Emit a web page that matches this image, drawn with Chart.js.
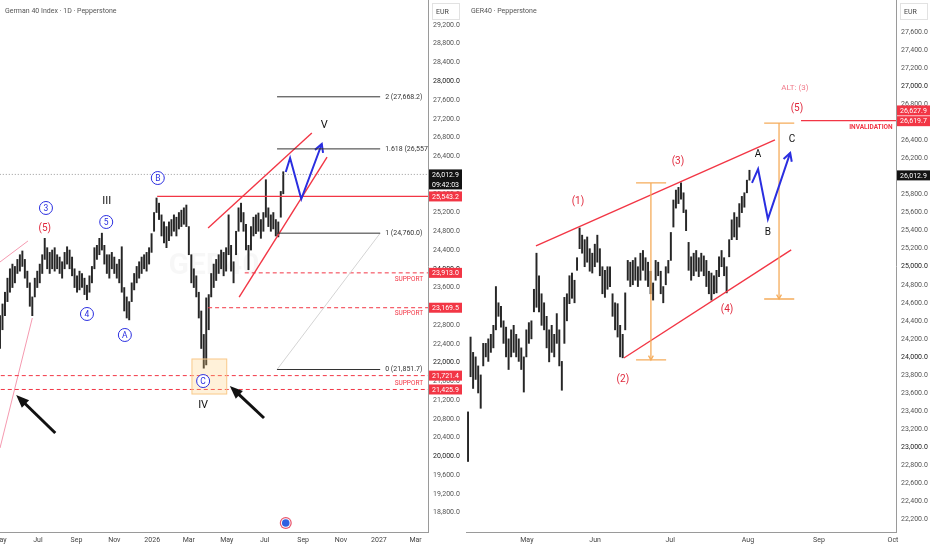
<!DOCTYPE html>
<html>
<head>
<meta charset="utf-8">
<script src="https://cdn.jsdelivr.net/npm/chart.js@4.4.1/dist/chart.umd.min.js"></script>
<style>
html, body { margin: 0; padding: 0; background: #fff; }
#wrap { position: relative; width: 932px; height: 550px; overflow: hidden; }
.pane { position: absolute; top: 0; width: 466px; height: 550px; }
</style>
</head>
<body>
<div id="wrap">
  <div class="pane" style="left:0"><canvas id="leftChart" width="466" height="550"></canvas></div>
  <div class="pane" style="left:466px"><canvas id="rightChart" width="466" height="550"></canvas></div>
</div>
<script>
// ---- daily chart (left), one bar every 4 days from 1 May 2025
var leftStep = 4;
var leftLow = [22300, 22700, 23000, 23300, 23500, 23600, 23700, 23900, 23950, 24050,
    23800, 23600, 23200, 23000, 23400, 23600, 23700, 23900, 24200, 24000,
    23900, 24000, 23950, 24000, 23900, 23800, 24000, 24100, 24000, 23850,
    23600, 23500, 23550, 23600, 23450, 23340, 23500, 23700, 24000, 24200,
    24300, 24400, 24100, 23900, 23800, 24000, 23900, 23800, 23700, 23500,
    23100, 22950, 22910, 23300, 23550, 23700, 23800, 23900, 24000, 23950,
    24100, 24350, 24800, 25200, 25050, 24700, 24550, 24450, 24600, 24700,
    24800, 24700, 24850, 24900, 24950, 24900, 24300, 23700, 23600, 23400,
    22950, 22300, 21880, 21950, 22700, 23400, 23600, 23750, 23900, 24000,
    23850, 23950, 24300, 23950, 23700, 24300, 24800, 25000, 24800, 24400,
    23980, 24400, 24700, 24750, 24800, 24650, 24800, 25100, 24900, 24800,
    24850, 24700, 24680, 25100, 25600];
var leftHigh = [23000, 23250, 23500, 23800, 24000, 24100, 24050, 24200, 24300, 24380,
    24200, 23950, 23700, 23400, 23800, 23950, 24100, 24300, 24650, 24450,
    24350, 24400, 24450, 24300, 24250, 24150, 24350, 24470, 24400, 24250,
    24000, 23850, 23950, 23900, 23800, 23650, 23850, 24050, 24450, 24500,
    24650, 24760, 24500, 24300, 24300, 24350, 24250, 24100, 24200, 24470,
    23600, 23400, 23300, 23700, 23900, 24050, 24150, 24250, 24300, 24350,
    24450, 24750, 25200, 25510, 25400, 25150, 25000, 24900, 25000, 25050,
    25150, 25100, 25200, 25250, 25300, 25360, 24900, 24300, 24000, 23850,
    23500, 23100, 22600, 23380, 23450, 23900, 24100, 24200, 24300, 24400,
    24350, 24450, 25150, 24500, 24150, 24800, 25300, 25400, 25200, 24950,
    24500, 24900, 25100, 25150, 25190, 25050, 25200, 25900, 25300, 25150,
    25200, 25050, 25000, 25650, 26070];
var leftTickDays = [0, 61, 123, 184, 245, 304, 365, 426, 488, 549, 610, 669];
var leftTickLabels = ['May', 'Jul', 'Sep', 'Nov', '2026', 'Mar', 'May', 'Jul', 'Sep', 'Nov', '2027', 'Mar'];
var leftPriceTicks = [29200, 28800, 28400, 28000, 27600, 27200, 26800, 26400, 26000, 25600, 25200,
    24800, 24400, 24000, 23600, 23200, 22800, 22400, 22000, 21600, 21200, 20800, 20400, 20000,
    19600, 19200, 18800];
var fibLevels = ['0', '1', '1.618', '2'];
var fibPrices = [21851.7, 24760.0, 26557.3, 27668.2];
var supportPrices = [23913.0, 23169.5, 21721.4, 21425.9];
var lastPrice = 26012.9;

// ---- 4h chart (right), x in trading days
var rightStart = 0.6;
var rightStep = 0.75;
var rightLow = [22840, 23780, 23650, 23750, 23600, 23430, 23900, 24000, 23950, 24050,
    24100, 24300, 24450, 24330, 24150, 24000, 23860, 24000, 24050, 24000,
    23950, 23860, 23610, 24000, 24150, 24200, 24500, 24550, 24500, 24350,
    24300, 24100, 23945, 24050, 24000, 24150, 23900, 23630, 24150, 24400,
    24590, 24650, 24600, 24960, 25200, 25150, 25000, 25050, 24950, 24930,
    25000, 25050, 24900, 24700, 24660, 24750, 24780, 24450, 24300, 24220,
    24000, 23990, 24300, 24850, 24780, 24800, 24850, 24780, 24850, 24960,
    24850, 24780, 24700, 24630, 24850, 24900, 24700, 24600, 24800, 24930,
    25070, 25440, 25650, 25700, 25750, 25600, 25400, 24960, 24850, 24900,
    24950, 24890, 24950, 24900, 24780, 24700, 24630, 24700, 24710, 24890,
    25000, 24900, 24710, 25110, 25300, 25330, 25300, 25440, 25600, 25660,
    25820, 25960];
var rightHigh = [23390, 24220, 24050, 24000, 23900, 23800, 24150, 24150, 24200, 24250,
    24350, 24780, 24600, 24560, 24400, 24330, 24200, 24300, 24350, 24250,
    24200, 24100, 24000, 24300, 24380, 24400, 24750, 25150, 24900, 24700,
    24600, 24450, 24300, 24350, 24250, 24480, 24300, 23950, 24660, 24700,
    24900, 24930, 24850, 25100, 25430, 25350, 25300, 25330, 25200, 25150,
    25250, 25350, 25200, 25000, 24960, 25000, 25000, 24700, 24600, 24590,
    24350, 24250, 24710, 25070, 25050, 25070, 25100, 25000, 25150, 25180,
    25100, 25050, 24950, 24820, 25070, 25050, 24950, 24780, 25000, 25070,
    25380, 25740, 25850, 25880, 25930, 25820, 25630, 25270, 25110, 25150,
    25180, 25100, 25150, 25120, 25070, 24950, 24930, 24900, 24960, 25110,
    25180, 25100, 25000, 25300, 25520, 25600, 25550, 25700, 25780, 25820,
    25960, 26070];
var rightTickPos = [18, 38.2, 60.4, 83.4, 104.4, 126.3];
var rightTickLabels = ['May', 'Jun', 'Jul', 'Aug', 'Sep', 'Oct'];
var rightPriceTicks = [27600, 27400, 27200, 27000, 26800, 26600, 26400, 26200, 26000, 25800,
    25600, 25400, 25200, 25000, 24800, 24600, 24400, 24200, 24000, 23800, 23600, 23400,
    23200, 23000, 22800, 22600, 22400, 22200];
var invalidation = [26627.9, 26619.7];

var RED = '#f23645';
var BLUE = '#2a2ee0';
var ORANGE = '#f5ac5b';

Chart.defaults.font.family = 'Roboto, "Liberation Sans", sans-serif';

function fmt(v) {
    return v.toLocaleString('en-US', { minimumFractionDigits: 1, maximumFractionDigits: 1 });
}

function bars(lows, highs, start, step) {
    return lows.map(function (lo, i) {
        return { x: start + i * step, y: [lo, highs[i]] };
    });
}

function arrowHead(ctx, x1, y1, x2, y2, len, open) {
    var a = Math.atan2(y2 - y1, x2 - x1);
    var w = open ? 0.5 : 0.38;
    ctx.beginPath();
    ctx.moveTo(x2 - len * Math.cos(a - w), y2 - len * Math.sin(a - w));
    ctx.lineTo(x2, y2);
    ctx.lineTo(x2 - len * Math.cos(a + w), y2 - len * Math.sin(a + w));
    if (open) {
        ctx.stroke();
    } else {
        ctx.closePath();
        ctx.fill();
    }
}

function drawItem(chart, ctx, m) {
    var sx = chart.scales.x, sy = chart.scales.y, area = chart.chartArea;
    var X = function (v) { return sx.getPixelForValue(v); };
    var Y = function (v) { return sy.getPixelForValue(v); };
    ctx.save();
    ctx.strokeStyle = m.c || '#000';
    ctx.fillStyle = m.c || '#000';
    ctx.lineWidth = m.w || 1;
    ctx.setLineDash(m.dash || []);
    ctx.textBaseline = 'middle';
    if (m.t === 'line') {
        var p = m.p;
        ctx.beginPath();
        ctx.moveTo(X(p[0]), Y(p[1]));
        for (var i = 2; i < p.length; i += 2) ctx.lineTo(X(p[i]), Y(p[i + 1]));
        ctx.stroke();
        if (m.head) {
            var n = p.length;
            arrowHead(ctx, X(p[n - 4]), Y(p[n - 3]), X(p[n - 2]), Y(p[n - 1]), 9, true);
        }
    } else if (m.t === 'hline') {
        ctx.beginPath();
        ctx.moveTo(X(m.from), Y(m.y));
        ctx.lineTo(area.right, Y(m.y));
        ctx.stroke();
    } else if (m.t === 'text') {
        ctx.font = m.f;
        ctx.textAlign = m.align || 'center';
        ctx.fillText(m.s, X(m.x), Y(m.y) + (m.dy || 0));
    } else if (m.t === 'circle') {
        ctx.beginPath();
        ctx.arc(X(m.x), Y(m.y), 6.5, 0, Math.PI * 2);
        ctx.fillStyle = '#fff';
        ctx.fill();
        ctx.stroke();
        ctx.fillStyle = m.c;
        ctx.font = '8.5px Roboto';
        ctx.textAlign = 'center';
        ctx.fillText(m.s, X(m.x), Y(m.y) + 0.5);
    } else if (m.t === 'arrow') {
        var ax1 = X(m.p[0]), ay1 = Y(m.p[1]), ax2 = X(m.p[2]), ay2 = Y(m.p[3]);
        var ang = Math.atan2(ay2 - ay1, ax2 - ax1);
        ctx.beginPath();
        ctx.moveTo(ax1, ay1);
        ctx.lineTo(ax2 - 9 * Math.cos(ang), ay2 - 9 * Math.sin(ang));
        ctx.stroke();
        arrowHead(ctx, ax1, ay1, ax2, ay2, 14, false);
    } else if (m.t === 'box') {
        var bx = X(m.p[0]), by = Y(m.p[1]);
        var bw = X(m.p[2]) - bx, bh = Y(m.p[3]) - by;
        ctx.fillStyle = m.fill;
        ctx.fillRect(bx, by, bw, bh);
        ctx.strokeRect(bx, by, bw, bh);
    } else if (m.t === 'measure') {
        var mx = X(m.x), y1 = Y(m.y1), y2 = Y(m.y2);
        ctx.beginPath();
        ctx.moveTo(mx, y1); ctx.lineTo(mx, y2);
        ctx.moveTo(X(m.x1), y1); ctx.lineTo(X(m.x2), y1);
        ctx.moveTo(X(m.x1), y2); ctx.lineTo(X(m.x2), y2);
        ctx.stroke();
        arrowHead(ctx, mx, y1, mx, y2, 5, true);
    } else if (m.t === 'icon') {
        var ix = X(m.x), iy = Y(m.y);
        ctx.beginPath(); ctx.arc(ix, iy, 6, 0, Math.PI * 2); ctx.fillStyle = '#e8536b'; ctx.fill();
        ctx.beginPath(); ctx.arc(ix, iy, 4.8, 0, Math.PI * 2); ctx.fillStyle = '#fff'; ctx.fill();
        ctx.beginPath(); ctx.arc(ix, iy, 3.8, 0, Math.PI * 2); ctx.fillStyle = '#2f5fe0'; ctx.fill();
    }
    ctx.restore();
}

var marksPlugin = {
    id: 'marks',
    beforeDatasetsDraw: function (chart, args, opts) {
        if (!opts.watermark) return;
        var ctx = chart.ctx, a = chart.chartArea;
        ctx.save();
        ctx.font = 'bold 30px Roboto';
        ctx.fillStyle = 'rgba(0,0,0,0.03)';
        ctx.textAlign = 'center';
        ctx.textBaseline = 'middle';
        ctx.fillText(opts.watermark, (a.left + a.right) / 2, (a.top + a.bottom) / 2);
        ctx.restore();
    },
    afterDatasetsDraw: function (chart, args, opts) {
        var ctx = chart.ctx, a = chart.chartArea;
        ctx.save();
        ctx.beginPath();
        ctx.rect(a.left, a.top, a.right - a.left, a.bottom - a.top);
        ctx.clip();
        (opts.items || []).forEach(function (m) { drawItem(chart, ctx, m); });
        ctx.restore();
    },
    afterDraw: function (chart, args, opts) {
        var ctx = chart.ctx, sy = chart.scales.y, a = chart.chartArea;
        ctx.save();
        ctx.textBaseline = 'middle';
        ctx.textAlign = 'left';
        ctx.font = '7px Roboto';
        ctx.fillStyle = '#555';
        ctx.fillText(opts.title, a.left + 5, 11);
        // currency header
        ctx.strokeStyle = '#e2e2e2';
        ctx.strokeRect(sy.left + 4.5, 3.5, 27, 16);
        ctx.fillStyle = '#444';
        ctx.fillText('EUR', sy.left + 8, 12);
        // price tags on the axis
        (opts.tags || []).forEach(function (t) {
            var y = sy.getPixelForValue(t.y) + (t.dy || 0);
            var lines = t.lines || [fmt(t.y)];
            ctx.fillStyle = t.bg;
            ctx.fillRect(sy.left + 1, y - 5, 33, 10 * lines.length);
            ctx.fillStyle = '#fff';
            lines.forEach(function (s, i) { ctx.fillText(s, sy.left + 4, y + i * 10 + 0.5); });
        });
        ctx.restore();
    }
};

function makeChart(canvas, cfg) {
    return new Chart(canvas, {
        type: 'bar',
        data: {
            datasets: [{
                data: cfg.data,
                backgroundColor: '#262626',
                borderWidth: 0,
                barThickness: 1.3,
                grouped: false
            }]
        },
        plugins: [marksPlugin],
        options: {
            responsive: false,
            animation: false,
            devicePixelRatio: 1,
            layout: { padding: 0 },
            plugins: {
                legend: { display: false },
                tooltip: { enabled: false },
                marks: { title: cfg.title, items: cfg.items, tags: cfg.tags, watermark: cfg.watermark }
            },
            scales: {
                x: {
                    type: 'linear',
                    min: cfg.xMin,
                    max: cfg.xMax,
                    offset: false,
                    grid: { display: false, drawTicks: false },
                    border: { display: true, color: '#9a9a9a' },
                    ticks: {
                        autoSkip: false,
                        maxRotation: 0,
                        padding: 4,
                        color: '#444',
                        font: { size: 7 },
                        callback: function (v, i) { return cfg.xLabels[i]; }
                    },
                    afterBuildTicks: function (s) {
                        s.ticks = cfg.xTicks.map(function (v) { return { value: v }; });
                    },
                    afterFit: function (s) {
                        s.height = 18;
                        s.paddingLeft = 0;
                        s.paddingRight = 0;
                    }
                },
                y: {
                    position: 'right',
                    min: cfg.yMin,
                    max: cfg.yMax,
                    grid: { display: false, drawTicks: false },
                    border: { display: true, color: '#9a9a9a' },
                    ticks: {
                        padding: 5,
                        font: { size: 7 },
                        color: function (c) { return c.tick && c.tick.value % 1000 === 0 ? '#222' : '#555'; },
                        callback: function (v) { return fmt(v); }
                    },
                    afterBuildTicks: function (s) {
                        s.ticks = cfg.yTicks.map(function (v) { return { value: v }; });
                    },
                    afterFit: function (s) {
                        s.width = cfg.axisWidth;
                        s.paddingTop = 0;
                        s.paddingBottom = 0;
                    }
                }
            }
        }
    });
}

var leftItems = [
    { t: 'line', p: [0, 24145, 45, 24593], c: '#f59ab0', w: 1 },
    { t: 'line', p: [0, 20177, 52, 22950], c: '#f59ab0', w: 1 },
    { t: 'hline', y: lastPrice, from: -10, c: '#9a9a9a', dash: [1, 2] },
    { t: 'hline', y: supportPrices[2], from: -10, c: RED, dash: [4, 3] },
    { t: 'hline', y: supportPrices[3], from: -10, c: RED, dash: [4, 3] },
    { t: 'hline', y: supportPrices[1], from: 335, c: RED, dash: [4, 3] },
    { t: 'hline', y: supportPrices[0], from: 394, c: RED, dash: [4, 3] },
    { t: 'hline', y: 25543.2, from: 253, c: RED, w: 1.2 },
    { t: 'text', s: 'SUPPORT', x: 681, y: supportPrices[0], dy: 6.5, c: RED, f: '6.5px Roboto', align: 'right' },
    { t: 'text', s: 'SUPPORT', x: 681, y: supportPrices[1], dy: 6, c: RED, f: '6.5px Roboto', align: 'right' },
    { t: 'text', s: 'SUPPORT', x: 681, y: supportPrices[3], dy: -6.5, c: RED, f: '6.5px Roboto', align: 'right' },
    { t: 'line', p: [446, fibPrices[0], 612, fibPrices[1]], c: '#d4d4d4', w: 1 },
    { t: 'line', p: [335, 24870, 502, 26896], c: RED, w: 1.4 },
    { t: 'line', p: [385, 23398, 526.5, 26384], c: RED, w: 1.4 },
    { t: 'box', p: [309, 22076, 365, 21329], c: '#f9c98a', fill: 'rgba(255,205,120,0.28)' },
    { t: 'circle', s: '3', x: 74, y: 25297, c: BLUE },
    { t: 'circle', s: '5', x: 171, y: 24998, c: BLUE },
    { t: 'circle', s: '4', x: 140, y: 23036, c: BLUE },
    { t: 'circle', s: 'A', x: 201, y: 22588, c: BLUE },
    { t: 'circle', s: 'B', x: 254, y: 25936, c: BLUE },
    { t: 'circle', s: 'C', x: 327, y: 21606, c: BLUE },
    { t: 'text', s: '(5)', x: 72, y: 24849, c: '#e0283c', f: '10px Roboto' },
    { t: 'text', s: 'III', x: 172, y: 25446, c: '#111', f: '11px Roboto' },
    { t: 'text', s: 'IV', x: 327, y: 21095, c: '#111', f: '11px Roboto' },
    { t: 'text', s: 'V', x: 522, y: 27067, c: '#111', f: '11px Roboto' },
    { t: 'arrow', p: [89, 20497, 26, 21308], c: '#111', w: 3 },
    { t: 'arrow', p: [425, 20817, 370, 21500], c: '#111', w: 3 },
    { t: 'line', p: [460, 26064, 467, 26363, 485, 25489, 518, 26662], c: BLUE, w: 2, head: true },
    { t: 'icon', x: 460, y: 18578 }
];
fibPrices.forEach(function (v, i) {
    leftItems.push({ t: 'line', p: [446, v, 612, v], c: '#333', w: 1 });
    leftItems.push({ t: 'text', s: fibLevels[i] + ' (' + fmt(v) + ')', x: 620, y: v, c: '#333', f: '7px Roboto', align: 'left' });
});

makeChart(document.getElementById('leftChart'), {
    title: 'German 40 Index \u00b7 1D \u00b7 Pepperstone',
    data: bars(leftLow, leftHigh, 0, leftStep),
    xMin: 0, xMax: 689,
    xTicks: leftTickDays, xLabels: leftTickLabels,
    yMin: 18386, yMax: 29733,
    yTicks: leftPriceTicks,
    axisWidth: 38,
    watermark: 'GER40',
    items: leftItems,
    tags: [
        { y: lastPrice, bg: '#131313', lines: [fmt(lastPrice), '09:42:03'] },
        { y: 25543.2, bg: RED },
        { y: supportPrices[0], bg: RED },
        { y: supportPrices[1], bg: RED },
        { y: supportPrices[2], bg: RED },
        { y: supportPrices[3], bg: RED }
    ]
});

makeChart(document.getElementById('rightChart'), {
    title: 'GER40 \u00b7 Pepperstone',
    data: bars(rightLow, rightHigh, rightStart, rightStep),
    xMin: 0, xMax: 127.2,
    xTicks: rightTickPos, xLabels: rightTickLabels,
    yMin: 22058, yMax: 27958,
    yTicks: rightPriceTicks,
    axisWidth: 36,
    items: [
        { t: 'line', p: [20.7, 25230, 91.4, 26406], c: RED, w: 1.4 },
        { t: 'line', p: [46.7, 23988, 96.2, 25186], c: RED, w: 1.4 },
        { t: 'measure', x: 54.7, y1: 25929, y2: 23966, x1: 50.3, x2: 59.2, c: ORANGE, w: 1.3 },
        { t: 'measure', x: 92.6, y1: 26593, y2: 24642, x1: 88.2, x2: 97.1, c: ORANGE, w: 1.3 },
        { t: 'hline', y: invalidation[1], from: 99.1, c: RED, w: 1.4 },
        { t: 'text', s: 'INVALIDATION', x: 126.2, y: invalidation[1], dy: 6.5, c: RED, f: 'bold 6.5px Roboto', align: 'right' },
        { t: 'text', s: 'ALT: (3)', x: 97.3, y: 26982, c: '#f07a8a', f: '8px Roboto' },
        { t: 'text', s: '(5)', x: 97.9, y: 26760, c: '#e0283c', f: '10px Roboto' },
        { t: 'text', s: '(3)', x: 62.7, y: 26162, c: '#e0283c', f: '10px Roboto' },
        { t: 'text', s: '(1)', x: 33.1, y: 25718, c: '#e0283c', f: '10px Roboto' },
        { t: 'text', s: '(2)', x: 46.4, y: 23744, c: '#e0283c', f: '10px Roboto' },
        { t: 'text', s: '(4)', x: 77.2, y: 24531, c: '#e0283c', f: '10px Roboto' },
        { t: 'text', s: 'A', x: 86.4, y: 26240, c: '#111', f: '10px Roboto' },
        { t: 'text', s: 'B', x: 89.3, y: 25374, c: '#111', f: '10px Roboto' },
        { t: 'text', s: 'C', x: 96.4, y: 26406, c: '#111', f: '10px Roboto' },
        { t: 'line', p: [84.6, 25929, 86.4, 26084, 89.3, 25529, 95.9, 26262], c: BLUE, w: 2, head: true }
    ],
    tags: [
        { y: invalidation[0], dy: -9.5, bg: RED },
        { y: invalidation[1], dy: 0.5, bg: RED },
        { y: lastPrice, bg: '#131313' }
    ]
});
</script>
</body>
</html>
